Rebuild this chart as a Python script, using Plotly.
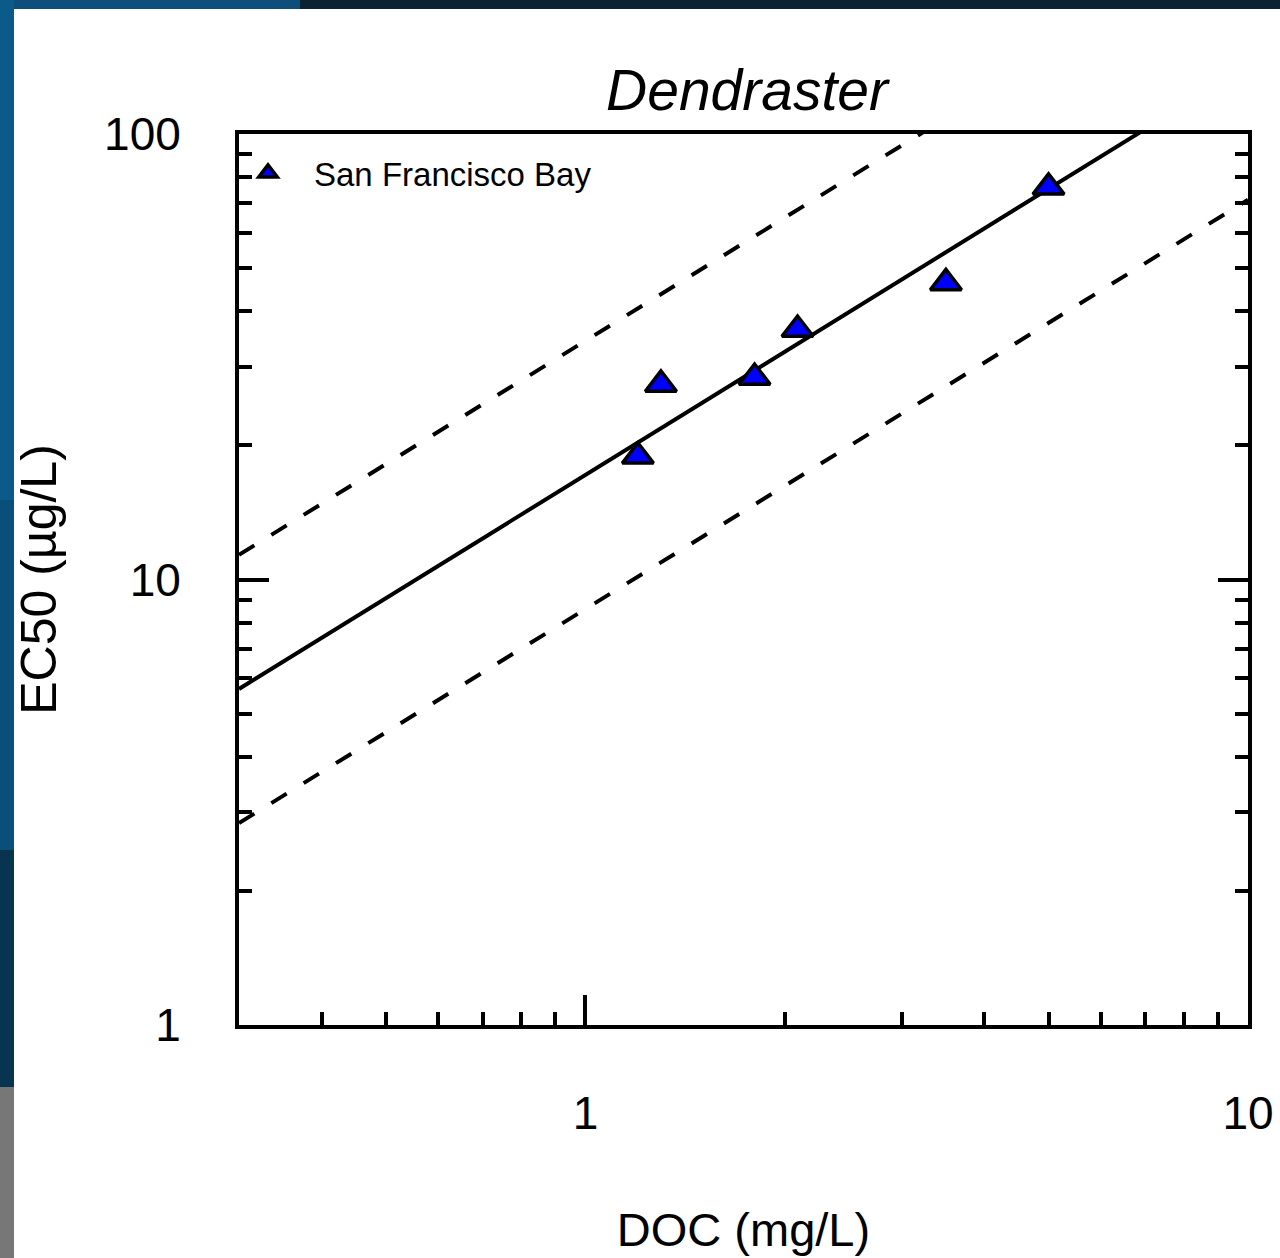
import math
import plotly.graph_objects as go

# ---- data ----
doc = [1.2, 1.3, 1.8, 2.09, 3.5, 5.0]
ec50 = [18.9, 27.4, 28.4, 36.4, 46.3, 75.9]

fit_x = [0.3, 10.0]
fit_mid = [5.68, 142.4]
fit_upper = [11.36, 284.8]
fit_lower = [2.84, 71.2]

x_tickvals = [1, 10]
x_ticktext = ["1", "10"]
x_minor = [0.4, 0.5, 0.6, 0.7, 0.8, 0.9, 2, 3, 4, 5, 6, 7, 8, 9]
y_tickvals = [1, 10, 100]
y_ticktext = ["1", "10", "100"]
y_minor = [2, 3, 4, 5, 6, 7, 8, 9, 20, 30, 40, 50, 60, 70, 80, 90]

W, H = 1280, 1258
ML, MR, MT, MB = 239, 32, 134, 233
PW = W - ML - MR
PH = H - MT - MB


def px2x(px):
    return (px - ML) / PW


def px2y(py):
    return (H - MB - py) / PH


FONT = "Liberation Sans, Arial, Helvetica, sans-serif"

fig = go.Figure()

fig.add_trace(go.Scatter(
    x=fit_x, y=fit_upper, mode="lines", showlegend=False,
    line=dict(color="black", width=4, dash="18px,20px"), hoverinfo="skip"))
fig.add_trace(go.Scatter(
    x=fit_x, y=fit_lower, mode="lines", showlegend=False,
    line=dict(color="black", width=4, dash="18px,20px"), hoverinfo="skip"))
fig.add_trace(go.Scatter(
    x=fit_x, y=fit_mid, mode="lines", showlegend=False,
    line=dict(color="black", width=4), hoverinfo="skip"))
fig.add_trace(go.Scatter(
    x=doc, y=ec50, mode="markers", name="San Francisco Bay",
    marker=dict(symbol="triangle-up", size=27, color="#0000ff",
                line=dict(color="black", width=3.5))))

# slide background fragments
shapes = [
    dict(type="rect", xref="paper", yref="paper", layer="below",
         x0=px2x(0), x1=px2x(1280), y0=px2y(0), y1=px2y(9),
         fillcolor="#0b2233", line=dict(width=0)),
    dict(type="rect", xref="paper", yref="paper", layer="below",
         x0=px2x(0), x1=px2x(300), y0=px2y(0), y1=px2y(9),
         fillcolor="#0d4f7a", line=dict(width=0)),
    dict(type="rect", xref="paper", yref="paper", layer="below",
         x0=px2x(0), x1=px2x(14), y0=px2y(0), y1=px2y(500),
         fillcolor="#0c5a8a", line=dict(width=0)),
    dict(type="rect", xref="paper", yref="paper", layer="below",
         x0=px2x(0), x1=px2x(14), y0=px2y(500), y1=px2y(850),
         fillcolor="#0a4f7a", line=dict(width=0)),
    dict(type="rect", xref="paper", yref="paper", layer="below",
         x0=px2x(0), x1=px2x(14), y0=px2y(850), y1=px2y(1087),
         fillcolor="#073550", line=dict(width=0)),
    dict(type="rect", xref="paper", yref="paper", layer="below",
         x0=px2x(0), x1=px2x(14), y0=px2y(1087), y1=px2y(1258),
         fillcolor="#777777", line=dict(width=0)),
]

fig.update_layout(
    width=W, height=H,
    margin=dict(l=ML, r=MR, t=MT, b=MB, pad=0, autoexpand=False),
    paper_bgcolor="white", plot_bgcolor="white",
    font=dict(family=FONT, color="black"),
    title=dict(text="<i>Dendraster</i>", font=dict(size=57, family=FONT, color="black"),
               x=747 / W, xref="container", xanchor="center",
               y=1 - 90 / H, yref="container", yanchor="middle"),
    showlegend=True,
    legend=dict(x=px2x(222), y=px2y(145), xanchor="left", yanchor="top",
                bgcolor="rgba(0,0,0,0)", borderwidth=0, itemwidth=82,
                font=dict(size=33, family=FONT, color="black")),
    shapes=shapes,
)

fig.update_xaxes(
    type="log", range=[math.log10(0.3), 1], automargin=False,
    showgrid=False, zeroline=False,
    showline=True, linecolor="black", linewidth=4, mirror=True,
    ticks="inside", ticklen=30, tickwidth=3.5, tickcolor="black",
    tickmode="array", tickvals=x_tickvals, ticktext=x_ticktext,
    tickfont=dict(size=46, family=FONT, color="black"),
    ticklabelstandoff=45,
    minor=dict(ticks="inside", ticklen=13, tickwidth=3.5, tickcolor="black",
               tickmode="array", tickvals=x_minor, showgrid=False),
    title=dict(text="DOC (mg/L)", font=dict(size=47, family=FONT, color="black"), standoff=76),
)
fig.update_yaxes(
    type="log", range=[0, 2], automargin=False,
    showgrid=False, zeroline=False,
    showline=True, linecolor="black", linewidth=4, mirror="allticks",
    ticks="inside", ticklen=30, tickwidth=3.5, tickcolor="black",
    tickmode="array", tickvals=y_tickvals, ticktext=y_ticktext,
    tickfont=dict(size=46, family=FONT, color="black"),
    ticklabelstandoff=45,
    minor=dict(ticks="inside", ticklen=13, tickwidth=3.5, tickcolor="black",
               tickmode="array", tickvals=y_minor, showgrid=False),
    title=dict(text="EC50 (µg/L)", font=dict(size=50, family=FONT, color="black"), standoff=33),
)

fig.write_html(
    "out.html",
    config={"displayModeBar": False},
    post_script="document.body.style.margin='0';document.body.style.overflow='hidden';",
)
